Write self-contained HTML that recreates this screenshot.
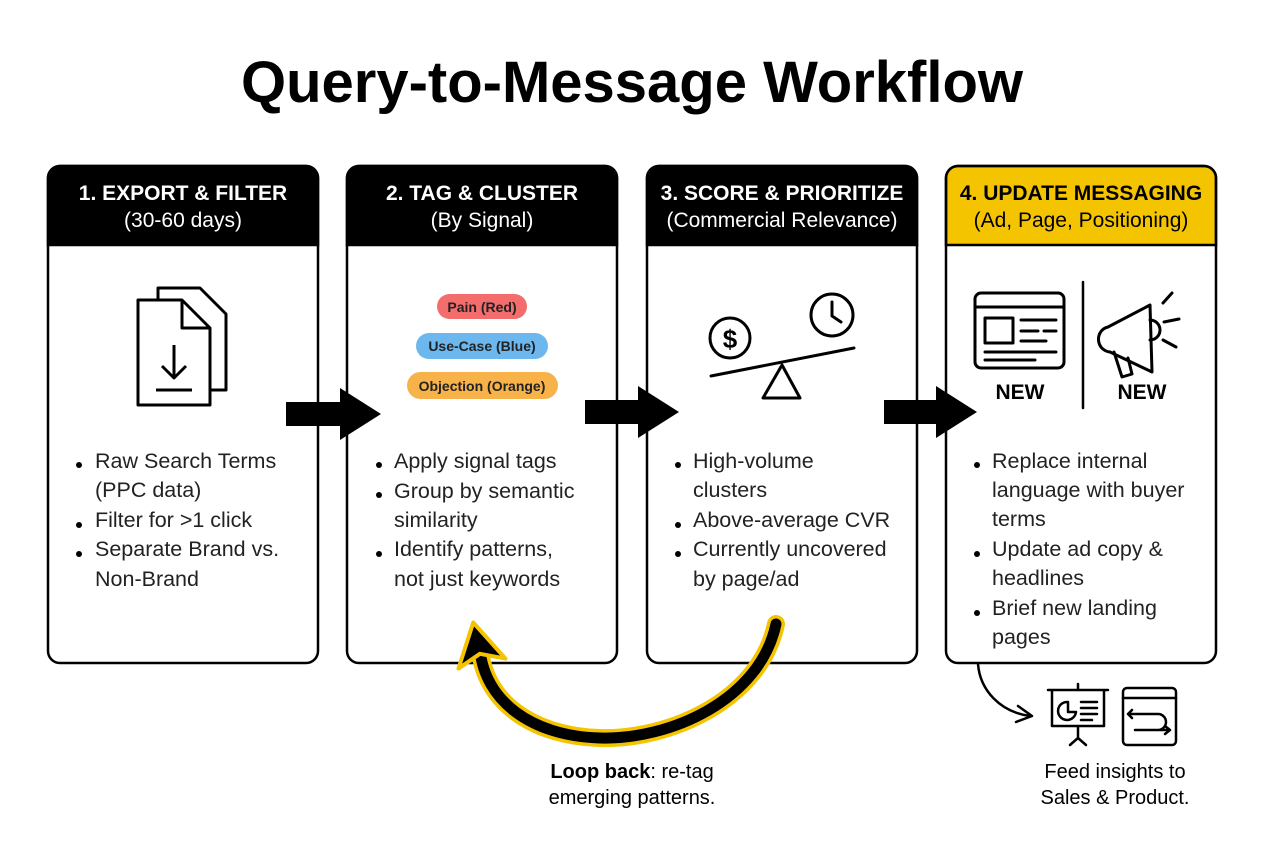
<!DOCTYPE html>
<html><head><meta charset="utf-8"><style>
body{margin:0;background:#fff;}
svg{display:block;font-family:"Liberation Sans",sans-serif;}
</style></head><body>
<svg width="1264" height="848" viewBox="0 0 1264 848" xmlns="http://www.w3.org/2000/svg">
<rect width="1264" height="848" fill="#fff"/>
<text x="632" y="102" text-anchor="middle" font-size="58" font-weight="bold" fill="#000">Query-to-Message Workflow</text>

<g stroke="#000" stroke-width="2.5">
<path d="M60,166 H306 A12,12 0 0 1 318,178 V245 H48 V178 A12,12 0 0 1 60,166Z" fill="#000"/>
<rect x="48" y="166" width="270" height="497" rx="12" fill="none"/>
<path d="M359,166 H605 A12,12 0 0 1 617,178 V245 H347 V178 A12,12 0 0 1 359,166Z" fill="#000"/>
<rect x="347" y="166" width="270" height="497" rx="12" fill="none"/>
<path d="M659,166 H905 A12,12 0 0 1 917,178 V245 H647 V178 A12,12 0 0 1 659,166Z" fill="#000"/>
<rect x="647" y="166" width="270" height="497" rx="12" fill="none"/>
<path d="M958,166 H1204 A12,12 0 0 1 1216,178 V245 H946 V178 A12,12 0 0 1 958,166Z" fill="#f5c400"/>
<rect x="946" y="166" width="270" height="497" rx="12" fill="none"/>
</g>
<g text-anchor="middle" font-size="21">
<text x="183" y="200" fill="#fff" font-weight="bold">1. EXPORT &amp; FILTER</text>
<text x="183" y="227" fill="#fff">(30-60 days)</text>
<text x="482" y="200" fill="#fff" font-weight="bold">2. TAG &amp; CLUSTER</text>
<text x="482" y="227" fill="#fff">(By Signal)</text>
<text x="782" y="200" fill="#fff" font-weight="bold">3. SCORE &amp; PRIORITIZE</text>
<text x="782" y="227" fill="#fff">(Commercial Relevance)</text>
<text x="1081" y="200" fill="#000" font-weight="bold">4. UPDATE MESSAGING</text>
<text x="1081" y="227" fill="#000">(Ad, Page, Positioning)</text>
</g>

<g fill="#fff" stroke="#000" stroke-width="3" stroke-linejoin="round">
<path d="M158,288 H200 L226,314 V390 H158Z"/>
<path d="M138,300 H182 L210,328 V405 H138Z"/>
<path d="M182,300 V328 H210" fill="none"/>
<path d="M174,345 V378 M162,366 L174,378 L186,366 M156,390 H192" fill="none"/>
</g>

<rect x="437" y="294" width="90" height="25" rx="12.5" fill="#f26d6b"/>
<text x="482" y="312" text-anchor="middle" font-size="14" font-weight="bold" fill="#222">Pain (Red)</text>
<rect x="416" y="333" width="132" height="26" rx="13" fill="#6cb8ee"/>
<text x="482" y="351" text-anchor="middle" font-size="14" font-weight="bold" fill="#222">Use-Case (Blue)</text>
<rect x="407" y="372" width="151" height="27" rx="13.5" fill="#f8b24a"/>
<text x="482" y="391" text-anchor="middle" font-size="14" font-weight="bold" fill="#222">Objection (Orange)</text>

<g fill="none" stroke="#000" stroke-width="3" stroke-linecap="round">
<circle cx="730" cy="338" r="20"/>
<text x="730" y="348" text-anchor="middle" font-size="26" font-weight="bold" fill="#000" stroke="none">$</text>
<circle cx="832" cy="315" r="21"/>
<path d="M832,302 V316 L841,322"/>
<path d="M711,376 L854,348"/>
<path d="M782,365 L763,398 H800Z" stroke-linejoin="round"/>
</g>

<g fill="none" stroke="#000" stroke-width="3" stroke-linecap="round" stroke-linejoin="round">
<rect x="975" y="293" width="89" height="75" rx="6"/>
<path d="M975,307 H1064"/>
<rect x="985" y="318" width="28" height="25"/>
<path d="M1021,320 H1056 M1021,331 H1038 M1044,331 H1056 M1021,341 H1046 M985,352 H1056 M985,360 H1035"/>
<path d="M1083,282 V408" stroke-width="2.5"/>
<path d="M1108,327 C1095,330 1095,350 1110,352 L1152,372 L1150,305Z"/>
<path d="M1150,320 A8,8 0 0 1 1150,340"/>
<path d="M1114,352 L1122,377 L1132,374 L1128,358"/>
<path d="M1163,303 L1172,293 M1164,322 L1179,319 M1163,340 L1176,347"/>
</g>
<text x="1020" y="399" text-anchor="middle" font-size="21" font-weight="bold">NEW</text>
<text x="1142" y="399" text-anchor="middle" font-size="21" font-weight="bold">NEW</text>

<g fill="#000">
<path d="M286,402 H340 V388 L381,414 L340,440 V426 H286Z"/>
<path d="M585,400 H638 V386 L679,412 L638,438 V424 H585Z"/>
<path d="M884,400 H936 V386 L977,412 L936,438 V424 H884Z"/>
</g>

<g font-size="21.5" fill="#222">
<g fill="#000"><circle cx="79" cy="465" r="3"/><circle cx="79" cy="525" r="3"/><circle cx="79" cy="554" r="3"/></g>
<text x="95" y="468">Raw Search Terms</text><text x="95" y="497">(PPC data)</text>
<text x="95" y="527">Filter for &gt;1 click</text>
<text x="95" y="556">Separate Brand vs.</text><text x="95" y="586">Non-Brand</text>

<g fill="#000"><circle cx="379" cy="465" r="3"/><circle cx="379" cy="495" r="3"/><circle cx="379" cy="554" r="3"/></g>
<text x="394" y="468">Apply signal tags</text>
<text x="394" y="498">Group by semantic</text><text x="394" y="527">similarity</text>
<text x="394" y="556">Identify patterns,</text><text x="394" y="586">not just keywords</text>

<g fill="#000"><circle cx="678" cy="465" r="3"/><circle cx="678" cy="525" r="3"/><circle cx="678" cy="554" r="3"/></g>
<text x="693" y="468">High-volume</text><text x="693" y="497">clusters</text>
<text x="693" y="527">Above-average CVR</text>
<text x="693" y="556">Currently uncovered</text><text x="693" y="586">by page/ad</text>

<g fill="#000"><circle cx="977" cy="465" r="3"/><circle cx="977" cy="554" r="3"/><circle cx="977" cy="613" r="3"/></g>
<text x="992" y="468">Replace internal</text><text x="992" y="497">language with buyer</text><text x="992" y="526">terms</text>
<text x="992" y="556">Update ad copy &amp;</text><text x="992" y="585">headlines</text>
<text x="992" y="615">Brief new landing</text><text x="992" y="644">pages</text>
</g>

<g fill="none" stroke-linecap="round" stroke-linejoin="round">
<path d="M776,624 C760,700 670,740 600,738 C530,736 485,700 480,650" stroke="#f5c400" stroke-width="18"/>
<path d="M776,624 C760,700 670,740 600,738 C530,736 485,700 480,650" stroke="#000" stroke-width="11"/>
</g>
<path d="M478,622 L454,664 L478,654 L502,664Z" fill="#000" stroke="#f5c400" stroke-width="4" stroke-linejoin="round" transform="rotate(-12 478 645)"/>
<text x="632" y="778" text-anchor="middle" font-size="20"><tspan font-weight="bold">Loop back</tspan>: re-tag</text>
<text x="632" y="804" text-anchor="middle" font-size="20">emerging patterns.</text>

<g fill="none" stroke="#000" stroke-width="2.5" stroke-linecap="round" stroke-linejoin="round">
<path d="M978,664 C980,690 1000,712 1030,716"/>
<path d="M1018,706 L1032,716 L1016,722"/>
<path d="M1048,690 H1108 M1052,690 V726 H1104 V690 M1078,684 V690 M1078,726 V738 M1070,745 L1078,738 L1086,745"/>
<path d="M1068,702 A9,9 0 1 0 1076,712 H1068Z"/>
<path d="M1081,702 H1097 M1081,708 H1097 M1081,714 H1097 M1081,720 H1092"/>
<rect x="1123" y="688" width="53" height="57" rx="4"/>
<path d="M1123,698 H1176 M1132,710 L1128,714 L1132,718 M1128,714 H1158 A8,8 0 0 1 1158,730 H1135 M1165,726 L1170,730 L1165,734 M1135,730 H1170"/>
</g>
<text x="1115" y="778" text-anchor="middle" font-size="20">Feed insights to</text>
<text x="1115" y="804" text-anchor="middle" font-size="20">Sales &amp; Product.</text>
</svg>
</body></html>
